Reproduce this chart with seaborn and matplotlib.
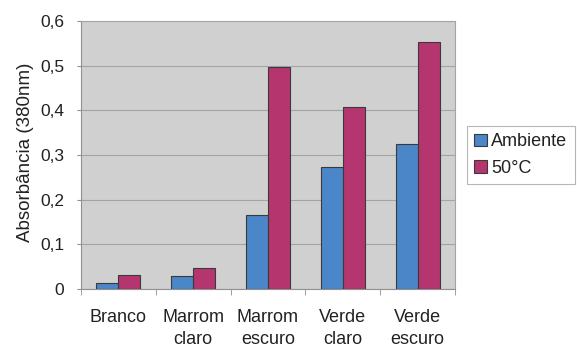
import matplotlib
matplotlib.use("Agg")
import matplotlib.pyplot as plt
import seaborn as sns
import pandas as pd
from matplotlib.ticker import FixedLocator, FuncFormatter

categorias = ["Branco", "Marrom\nclaro", "Marrom\nescuro", "Verde\nclaro", "Verde\nescuro"]
ambiente = [0.013, 0.028, 0.166, 0.274, 0.324]
cinquenta = [0.031, 0.047, 0.497, 0.407, 0.554]
series = ["Ambiente", "50°C"]

df = pd.DataFrame({
    "categoria": categorias * 2,
    "serie": [series[0]] * len(categorias) + [series[1]] * len(categorias),
    "valor": ambiente + cinquenta,
})

sns.set_style("white")
plt.rcParams["font.family"] = ["Liberation Sans", "DejaVu Sans"]

fig = plt.figure(figsize=(5.77, 3.47), dpi=100)
ax = fig.add_axes([81 / 577, 1 - 289 / 347, (455 - 81) / 577, (289 - 21) / 347])

sns.barplot(data=df, x="categoria", y="valor", hue="serie",
            palette=["#4a86c8", "#b5356f"], saturation=1, width=0.59, gap=0,
            edgecolor="#3a3a3a", linewidth=0.8, ax=ax, zorder=3)

ax.set_facecolor("#d0d0d0")
ax.set_ylim(0, 0.6)
ax.set_xlim(-0.5, len(categorias) - 0.5)
ax.set_yticks([0, 0.1, 0.2, 0.3, 0.4, 0.5, 0.6])
ax.yaxis.set_major_formatter(FuncFormatter(lambda v, p: "0" if v == 0 else f"{v:.1f}".replace(".", ",")))
ax.grid(axis="y", color="#a4a4a4", linewidth=0.8, zorder=0)
ax.set_axisbelow(True)

for side in ["top", "right"]:
    ax.spines[side].set_color("#a4a4a4")
    ax.spines[side].set_linewidth(0.8)
for side in ["left", "bottom"]:
    ax.spines[side].set_color("#909090")
    ax.spines[side].set_linewidth(0.8)

ax.tick_params(axis="y", which="major", left=True, length=3, color="#909090",
               labelsize=12.5, labelcolor="#222222", pad=9)
ax.tick_params(axis="x", which="major", bottom=False, labelsize=13,
               labelcolor="#222222", pad=11)
for lbl in ax.get_xticklabels():
    lbl.set_linespacing(1.38)
ax.xaxis.set_minor_locator(FixedLocator([i - 0.5 for i in range(len(categorias) + 1)]))
ax.tick_params(axis="x", which="minor", bottom=True, length=4, color="#909090")

ax.set_xlabel("")
ax.set_ylabel("Absorbância (380nm)", fontsize=13.5, color="#222222")
ax.yaxis.set_label_coords(-0.127, 0.511)

leg = ax.legend(loc="center left", bbox_to_anchor=(467 / 577, 1 - 155 / 347),
                bbox_transform=fig.transFigure, frameon=True, fontsize=13,
                handlelength=0.7, handleheight=0.7, handletextpad=0.25,
                borderpad=0.4, labelspacing=0.5, borderaxespad=0, fancybox=False)
leg.get_frame().set_edgecolor("#a4a4a4")
leg.get_frame().set_linewidth(0.8)
for t in leg.get_texts():
    t.set_color("#222222")

fig.savefig("out.png", dpi=100)
